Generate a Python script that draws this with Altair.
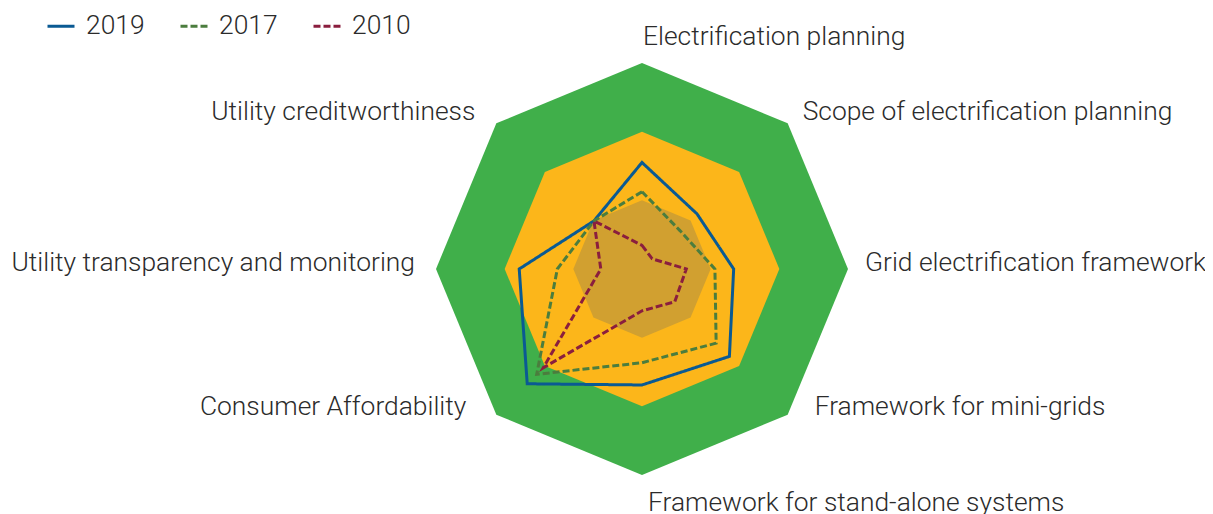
import altair as alt
import pandas as pd

# ---- data ----
axes_labels = [
    "Electrification planning",
    "Scope of electrification planning",
    "Grid electrification framework",
    "Framework for mini-grids",
    "Framework for stand-alone systems",
    "Consumer Affordability",
    "Utility transparency and monitoring",
    "Utility creditworthiness",
]
years = ["2019", "2017", "2010"]
v2019 = [51.7, 37.8, 44.5, 60.0, 56.3, 78.8, 59.6, 33.0]
v2017 = [37.5, 26.2, 35.4, 50.9, 45.5, 72.3, 41.1, 33.0]
v2010 = [11.5, 7.0, 21.5, 22.5, 20.3, 67.8, 20.0, 33.0]
band_levels = [100, 66.67, 33.33]

# ---- styles ----
band_colors = ["#40AF4A", "#FCB61A", "#D1A030"]
line_colors = ["#0A5A93", "#4B7D3E", "#8A1E3E"]
dashes = [[1, 0], [7, 3], [7, 3]]
FONT = "Roboto"
TXT = "#2b2b2b"
FS = 26.4

W, H = 1197, 506
cx, cy, k = 634, 261, 2.06
xs = alt.Scale(domain=[-cx / k, (W - cx) / k], nice=False, zero=False)
ys = alt.Scale(domain=[-(H - cy) / k, cy / k], nice=False, zero=False)


def polar(ch):
    return ch.transform_calculate(ang="datum.idx * PI / 4").transform_calculate(
        px="datum.r * sin(datum.ang)", py="datum.r * cos(datum.ang)"
    )


X = alt.X("px:Q", scale=xs, axis=None)
Y = alt.Y("py:Q", scale=ys, axis=None)

layers = []
for lvl, col in zip(band_levels, band_colors):
    df = pd.DataFrame({"idx": list(range(8)), "r": [lvl] * 8})
    layers.append(
        polar(
            alt.Chart(df).mark_line(
                interpolate="linear-closed", fill=col, stroke=col, strokeWidth=0
            )
        ).encode(x=X, y=Y, order=alt.Order("idx:Q"))
    )

rows = []
for y, vals in zip(years, [v2019, v2017, v2010]):
    for i, v in enumerate(vals):
        rows.append({"year": y, "idx": i, "r": v})
series = pd.DataFrame(rows)

leg = alt.Legend(
    orient="none",
    legendX=38,
    legendY=3,
    direction="horizontal",
    title=None,
    symbolType="stroke",
    symbolSize=729,
    symbolStrokeWidth=3,
    labelFontSize=FS,
    labelFont=FONT,
    labelFontWeight=300,
    labelColor=TXT,
    labelOffset=10,
    columnPadding=29,
    padding=0,
)

lines = polar(
    alt.Chart(series).mark_line(interpolate="linear-closed", strokeWidth=3)
).encode(
    x=X,
    y=Y,
    order=alt.Order("idx:Q"),
    color=alt.Color("year:N", scale=alt.Scale(domain=years, range=line_colors), legend=leg),
    strokeDash=alt.StrokeDash("year:N", scale=alt.Scale(domain=years, range=dashes), legend=leg),
)
layers.append(lines)

# label placement (align, dx, dy) per axis
label_pos = [
    ("left", 1, -18),
    ("left", 15, -3),
    ("left", 17, 2),
    ("left", 27, 0),
    ("left", 6, 36),
    ("right", -30, 0),
    ("right", -21, 2),
    ("right", -21, -3),
]
for i, (lab, (al, dx, dy)) in enumerate(zip(axes_labels, label_pos)):
    df = pd.DataFrame({"idx": [i], "r": [100], "label": [lab]})
    layers.append(
        polar(
            alt.Chart(df).mark_text(
                align=al,
                baseline="alphabetic",
                dx=dx,
                dy=dy,
                font=FONT,
                fontSize=FS,
                fontWeight=300,
                color=TXT,
            )
        ).encode(x=X, y=Y, text="label:N")
    )

chart = (
    alt.layer(*layers)
    .properties(width=W, height=H, autosize=alt.AutoSizeParams(type="none"), padding=0)
    .configure_view(stroke=None)
)

chart.save("out.html", embed_options={"renderer": "svg", "actions": False})
